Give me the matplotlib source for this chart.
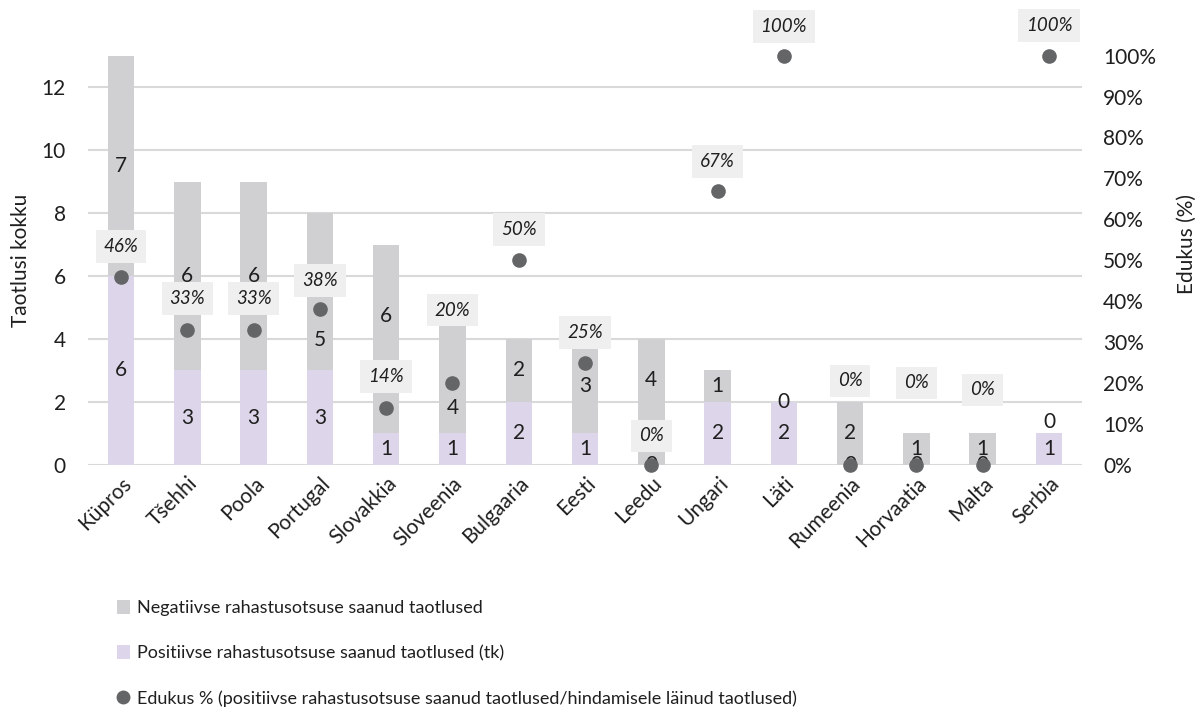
import matplotlib.pyplot as plt
import matplotlib.transforms as mtransforms
from matplotlib.patches import Patch
from matplotlib.lines import Line2D

plt.rcParams['font.family'] = ['Lato', 'DejaVu Sans']

# andmed
riigid = ['Küpros', 'Tšehhi', 'Poola', 'Portugal', 'Slovakkia', 'Sloveenia', 'Bulgaaria',
          'Eesti', 'Leedu', 'Ungari', 'Läti', 'Rumeenia', 'Horvaatia', 'Malta', 'Serbia']
positiivne = [6, 3, 3, 3, 1, 1, 2, 1, 0, 2, 2, 0, 0, 0, 1]
negatiivne = [7, 6, 6, 5, 6, 4, 2, 3, 4, 1, 0, 2, 1, 1, 0]
edukus = [0.46, 0.33, 0.33, 0.38, 0.14, 0.20, 0.50, 0.25, 0.0, 0.67, 1.0, 0.0, 0.0, 0.0, 1.0]

# käsitsi nihutatud sildid (nagu Exceli originaalis)
neg_sildi_nihe = [0, 0, 0, -1.53, 0.73, -1.2, 0, 0, 0.7, 0, 0, 0, 0, 0, 0.37]   # andmeühikutes
pct_sildi_nihe = [30, 31, 31, 29, 31, 73, 31, 30, 29, 29, 29, 84, 82, 75, 30]  # pikslites

vaerv_neg = '#d0cfd1'
vaerv_pos = '#ddd6ea'
vaerv_punkt = '#646567'
tekst = '#1f1f1f'

fig = plt.figure(figsize=(11.97, 7.13), dpi=100)
ax = fig.add_axes([0.0735, 0.348, 0.8305, 0.574])
ax2 = ax.twinx()

x = list(range(len(riigid)))
ax.bar(x, positiivne, width=0.4, color=vaerv_pos, zorder=2)
ax.bar(x, negatiivne, width=0.4, bottom=positiivne, color=vaerv_neg, zorder=2)

# väärtused tulpades
for i in x:
    ax.text(i, positiivne[i] / 2, str(positiivne[i]), ha='center', va='center',
            fontsize=15, color=tekst, zorder=3)
    ax.text(i, positiivne[i] + negatiivne[i] / 2 + neg_sildi_nihe[i], str(negatiivne[i]),
            ha='center', va='center', fontsize=15, color=tekst, zorder=3)

ax.set_xlim(-0.5, len(riigid) - 0.5)
ax.set_ylim(0, 13)
ax.set_yticks(range(0, 13, 2))
ax.grid(axis='y', color='#d9d9d9', linewidth=1.5, zorder=0)
ax.set_axisbelow(True)
ax.set_xticks(x)
ax.set_xticklabels(riigid, rotation=45, ha='right', rotation_mode='anchor', fontsize=15, color=tekst)
nihe = mtransforms.ScaledTranslation(10 / 100, 0, fig.dpi_scale_trans)
for lbl in ax.get_xticklabels():
    lbl.set_transform(lbl.get_transform() + nihe)
ax.tick_params(axis='both', length=0, labelsize=15, labelcolor=tekst)
ax.tick_params(axis='x', pad=6)
ax.tick_params(axis='y', pad=16)
ax.set_ylabel('Taotlusi kokku', fontsize=15, color=tekst)
ax.yaxis.set_label_coords(-0.057, 0.5)

# edukus teisel teljel
ax2.plot(x, edukus, 'o', color=vaerv_punkt, markersize=9.5, zorder=5, clip_on=False)
for i in x:
    ax2.annotate(f'{round(edukus[i] * 100)}%', (i, edukus[i]), xytext=(0, pct_sildi_nihe[i]),
                 textcoords='offset pixels', ha='center', va='center', fontsize=13.5,
                 style='italic', color=tekst, annotation_clip=False,
                 bbox=dict(boxstyle='square,pad=0.42', facecolor='#efefef', edgecolor='none'))
ax2.set_ylim(0, 1.0)
ax2.set_yticks([i / 10 for i in range(11)])
ax2.set_yticklabels([f'{i * 10}%' for i in range(11)])
ax2.tick_params(axis='y', length=0, labelsize=15, labelcolor=tekst, pad=15)
ax2.set_ylabel('Edukus (%)', fontsize=15, color=tekst)
ax2.yaxis.set_label_coords(1.0956, 0.54)

for a in (ax, ax2):
    for s in a.spines.values():
        s.set_visible(False)

kasitsejad = [
    Patch(facecolor=vaerv_neg, edgecolor='none'),
    Patch(facecolor=vaerv_pos, edgecolor='none'),
    Line2D([], [], marker='o', linestyle='none', color=vaerv_punkt, markersize=9),
]
sildid = [
    'Negatiivse rahastusotsuse saanud taotlused',
    'Positiivse rahastusotsuse saanud taotlused (tk)',
    'Edukus % (positiivse rahastusotsuse saanud taotlused/hindamisele läinud taotlused)',
]
fig.legend(kasitsejad, sildid, loc='upper left', bbox_to_anchor=(0.0975, 0.158),
           frameon=False, borderpad=0, borderaxespad=0, labelspacing=1.6,
           handlelength=0.75, handleheight=0.75, handletextpad=0.35, labelcolor=tekst,
           fontsize=13)

fig.savefig('out.png', dpi=100)
